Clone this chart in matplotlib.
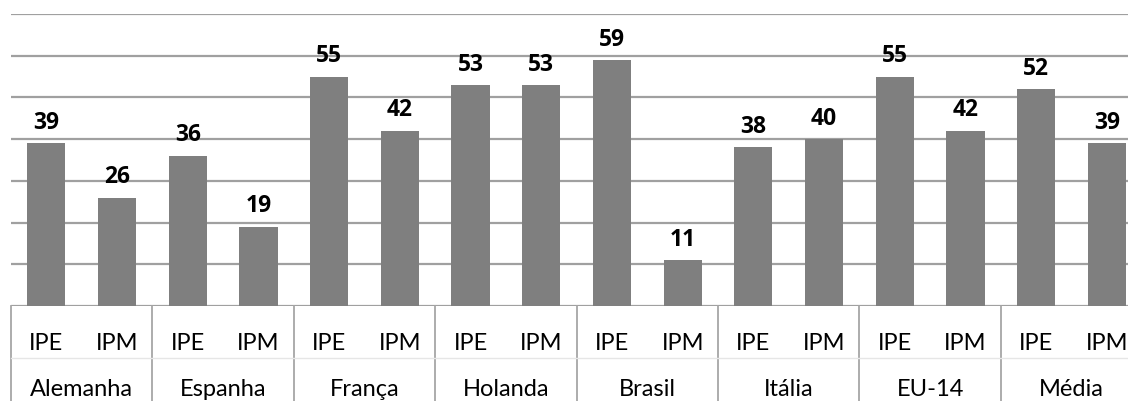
import matplotlib.pyplot as plt
from matplotlib.transforms import blended_transform_factory

# dados
paises = ['Alemanha', 'Espanha', 'França', 'Holanda', 'Brasil', 'Itália', 'EU-14', 'Média']
indices = ['IPE', 'IPM']
ipe = [39, 36, 55, 53, 59, 38, 55, 52]
ipm = [26, 19, 42, 53, 11, 40, 42, 39]

valores = []
rotulos = []
for i in range(len(paises)):
    valores += [ipe[i], ipm[i]]
    rotulos += indices

plt.rcParams['font.family'] = ['Lato', 'DejaVu Sans']

fig = plt.figure(figsize=(11.28, 4.01), dpi=100)
W, H = 1128, 401
x0, x1 = 11, 11 + 16 * 70.7
yb, yt = 306, 14
ax = fig.add_axes([x0 / W, (H - yb) / H, (x1 - x0) / W, (yb - yt) / H])

xs = list(range(len(valores)))
ax.bar(xs, valores, width=0.54, color='#7f7f7f', zorder=3)

for x, v in zip(xs, valores):
    ax.annotate(str(v), (x, v), xytext=(0, 6), textcoords='offset points',
                ha='center', va='bottom', fontsize=16.5, fontweight='bold',
                family=['Open Sans', 'DejaVu Sans'], color='black')

ax.set_xlim(-0.5, len(valores) - 0.5)
ax.set_ylim(0, 70)
for g in range(0, 71, 10):
    ax.axhline(g, color='#a0a0a0', lw=1.6, zorder=1)

for s in ax.spines.values():
    s.set_visible(False)
ax.set_xticks([])
ax.set_yticks([])

# eixo de categorias em dois níveis
tr = blended_transform_factory(ax.transData, ax.transAxes)
px = 1.0 / (yb - yt)
for g in range(len(paises) + 1):
    ax.plot([2 * g - 0.5, 2 * g - 0.5], [0, -100 * px], transform=tr,
            color='#a6a6a6', lw=1.3, clip_on=False)
ax.plot([-0.5, len(valores) - 0.5], [-52 * px, -52 * px], transform=tr,
        color='#e6e6e6', lw=1, clip_on=False)

for x, r in zip(xs, rotulos):
    ax.text(x, -44 * px, r, transform=tr, ha='center', va='baseline', fontsize=17)
for i, p in enumerate(paises):
    ax.text(2 * i + 0.5, -94 * px, p, transform=tr, ha='center', va='bottom', fontsize=17)

plt.savefig('out.png', dpi=100)
